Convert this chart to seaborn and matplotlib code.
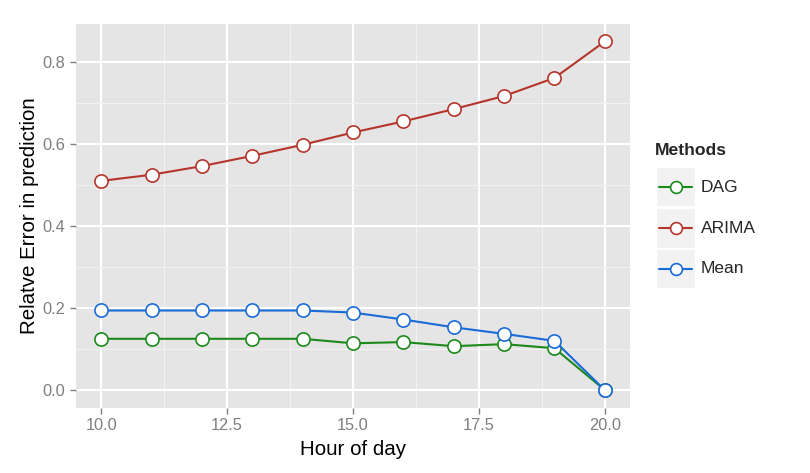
import numpy as np
import pandas as pd
import matplotlib
matplotlib.use("Agg")
import matplotlib.pyplot as plt
import seaborn as sns
from matplotlib.patches import Rectangle
from matplotlib.lines import Line2D
from matplotlib.ticker import MultipleLocator, FormatStrFormatter

hours = [10, 11, 12, 13, 14, 15, 16, 17, 18, 19, 20]
dag = [0.125, 0.125, 0.125, 0.125, 0.125, 0.114, 0.117, 0.107, 0.112, 0.102, 0.0]
arima = [0.510, 0.525, 0.546, 0.571, 0.598, 0.628, 0.655, 0.685, 0.717, 0.761, 0.850]
mean = [0.194, 0.194, 0.194, 0.194, 0.194, 0.189, 0.172, 0.153, 0.137, 0.120, 0.0]
methods = ["DAG", "ARIMA", "Mean"]
colors = {"DAG": "#1B8A1B", "ARIMA": "#B5352B", "Mean": "#1A6BD6"}

df = pd.DataFrame({
    "hour": hours * 3,
    "err": dag + arima + mean,
    "Methods": ["DAG"] * len(hours) + ["ARIMA"] * len(hours) + ["Mean"] * len(hours),
})

sns.set_style("darkgrid")
plt.rcParams["font.family"] = ["Liberation Sans", "DejaVu Sans"]

W, H = 810.0, 473.0
fig = plt.figure(figsize=(8.1, 4.73), dpi=100)
ax = fig.add_axes([76 / W, 1 - 407.5 / H, 554 / W, 383.5 / H])
ax.set_facecolor("#E5E5E5")

sns.lineplot(data=df, x="hour", y="err", hue="Methods", hue_order=methods,
             palette=colors, marker="o", markersize=9.5, linewidth=1.5,
             markerfacecolor="white", legend=False, ax=ax, zorder=3)
for ln in ax.lines:
    ln.set_markeredgecolor(ln.get_color())
    ln.set_markeredgewidth(1.2)

ax.set_xlim(9.5, 20.5)
ax.set_ylim(-0.0425, 0.8925)
ax.xaxis.set_major_locator(MultipleLocator(2.5))
ax.xaxis.set_minor_locator(MultipleLocator(1.25))
ax.yaxis.set_major_locator(MultipleLocator(0.2))
ax.yaxis.set_minor_locator(MultipleLocator(0.1))
ax.xaxis.set_major_formatter(FormatStrFormatter("%.1f"))
ax.yaxis.set_major_formatter(FormatStrFormatter("%.1f"))
ax.grid(which="major", color="white", linewidth=1.5)
ax.grid(which="minor", color="#F2F2F2", linewidth=0.8)
ax.set_axisbelow(True)
for s in ax.spines.values():
    s.set_visible(False)
ax.tick_params(which="major", length=4, width=1, color="#7F7F7F",
               labelcolor="#7F7F7F", labelsize=11.8, pad=3.5, bottom=True, left=True)
ax.tick_params(which="minor", length=0)
ax.set_xlabel("Hour of day", fontsize=14.8, color="black", labelpad=5)
ax.set_ylabel("Relatve Error in prediction", fontsize=14.8, color="black", labelpad=3)

# ggplot-like legend
fig.text(655 / W, 1 - 150 / H, "Methods", fontsize=12.6, fontweight="bold",
         ha="left", va="center")
centers = [187, 228, 268.5]
for m, cy in zip(methods, centers):
    fig.add_artist(Rectangle((656 / W, 1 - (cy + 19.5) / H), 39 / W, 39 / H,
                             transform=fig.transFigure, facecolor="#F2F2F2",
                             edgecolor="white", linewidth=1))
    fig.add_artist(Line2D([659 / W, 692 / W], [1 - cy / H, 1 - cy / H],
                          transform=fig.transFigure, color=colors[m], linewidth=1.5))
    fig.add_artist(Line2D([675.5 / W], [1 - cy / H], transform=fig.transFigure,
                          marker="o", markersize=8.5, markerfacecolor="white",
                          markeredgecolor=colors[m], markeredgewidth=1.2, linestyle="none"))
    fig.text(701 / W, 1 - cy / H, m, fontsize=12.5, ha="left", va="center")

fig.savefig("out.png", dpi=100, facecolor="white")
